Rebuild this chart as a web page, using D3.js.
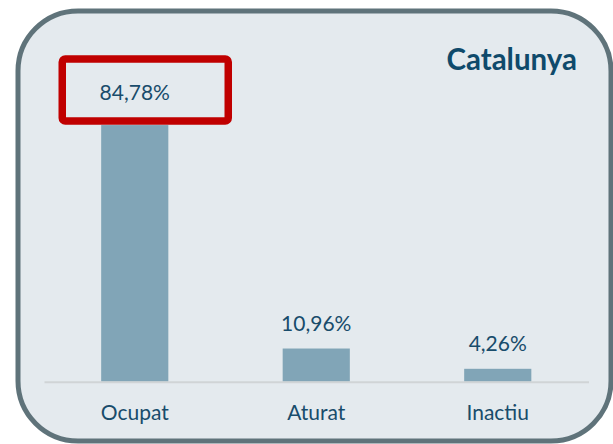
<!DOCTYPE html>
<html>
<head>
<meta charset="utf-8">
<script src="https://cdn.jsdelivr.net/npm/d3@7"></script>
<style>
html, body { margin: 0; padding: 0; background: #ffffff; }
svg { display: block; }
</style>
</head>
<body>
<svg id="chart" width="613" height="444"></svg>
<script>
const categories = ["Ocupat", "Aturat", "Inactiu"];
const values = [84.78, 10.96, 4.26];
const valueLabels = ["84,78%", "10,96%", "4,26%"];
const title = "Catalunya";
const highlightIndex = 0;

const W = 613, H = 444;
const svg = d3.select("#chart");

// panel background with rounded border
svg.append("rect")
  .attr("x", 18).attr("y", 11)
  .attr("width", 593).attr("height", 430)
  .attr("rx", 60).attr("ry", 60)
  .attr("fill", "#e4eaee")
  .attr("stroke", "#5f737a")
  .attr("stroke-width", 5);

const x = d3.scaleBand()
  .domain(categories)
  .range([44, 588.5])
  .paddingInner(0.63)
  .paddingOuter(0.315);

const y = d3.scaleLinear()
  .domain([0, 100])
  .range([381.7, 79]);

// bars
svg.append("g").selectAll("rect")
  .data(categories)
  .join("rect")
  .attr("x", d => x(d))
  .attr("width", x.bandwidth())
  .attr("y", (d, i) => y(values[i]))
  .attr("height", (d, i) => y(0) - y(values[i]))
  .attr("fill", "#81a5b7");

// baseline axis
const xAxis = d3.axisBottom(x).tickSize(0).tickPadding(23);
const axisG = svg.append("g")
  .attr("transform", `translate(0,${y(0)})`)
  .call(xAxis);
axisG.select(".domain").attr("stroke", "#d0d4d6").attr("stroke-width", 2);
axisG.selectAll("text")
  .attr("font-family", "Lato, 'Open Sans', sans-serif")
  .attr("font-size", 21)
  .attr("fill", "#184c6b");

// value labels
svg.append("g").selectAll("text")
  .data(categories)
  .join("text")
  .attr("x", d => x(d) + x.bandwidth() / 2)
  .attr("y", (d, i) => i === highlightIndex ? 99.5 : y(values[i]) - 17.5)
  .attr("text-anchor", "middle")
  .attr("font-family", "Lato, 'Open Sans', sans-serif")
  .attr("font-size", 21)
  .attr("fill", "#184c6b")
  .text((d, i) => valueLabels[i]);

// highlight box around the first label
const hc = categories[highlightIndex];
const hcx = x(hc) + x.bandwidth() / 2;
svg.append("rect")
  .attr("x", hcx - 72.5).attr("y", 59)
  .attr("width", 166).attr("height", 62)
  .attr("rx", 3)
  .attr("fill", "none")
  .attr("stroke", "#c00000")
  .attr("stroke-width", 7.5);

// title
svg.append("text")
  .attr("x", 577).attr("y", 69.5)
  .attr("text-anchor", "end")
  .attr("font-family", "Lato, 'Open Sans', sans-serif")
  .attr("font-weight", "bold")
  .attr("font-size", 29.5)
  .attr("fill", "#0f4a6b")
  .text(title);
</script>
</body>
</html>
